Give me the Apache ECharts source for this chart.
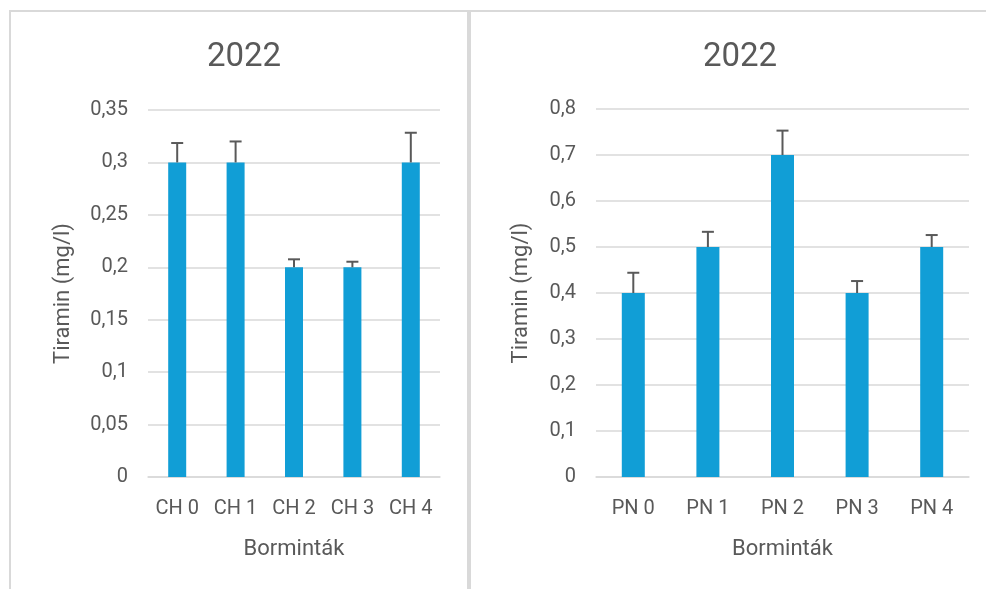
<!DOCTYPE html>
<html><head><meta charset="utf-8">
<script src="https://cdn.jsdelivr.net/npm/echarts@6/dist/echarts.min.js"></script>
<style>html,body{margin:0;padding:0;background:#fff}#c{width:986px;height:589px}</style>
</head><body><div id="c"></div>
<script>
const titleText = '2022';
const xAxisName = 'Borminták';
const yAxisName = 'Tiramin (mg/l)';
const categoriesCH = ['CH 0', 'CH 1', 'CH 2', 'CH 3', 'CH 4'];
const valuesCH = [0.3, 0.3, 0.2, 0.2, 0.3];
const errorsCH = [0.0185, 0.020, 0.0076, 0.0053, 0.0283];
const categoriesPN = ['PN 0', 'PN 1', 'PN 2', 'PN 3', 'PN 4'];
const valuesPN = [0.4, 0.5, 0.7, 0.4, 0.5];
const errorsPN = [0.044, 0.033, 0.053, 0.026, 0.026];
const yTicksCH = { min: 0, max: 0.35, interval: 0.05 };
const yTicksPN = { min: 0, max: 0.8, interval: 0.1 };

const TXT = '#595959', GRID = '#d9d9d9', BAR = '#119ed6', ERR = '#595959';
const FONT = 'Roboto';
const fmt = v => String(Math.round(v * 100) / 100).replace('.', ',');

function errSeries(idx, vals, errs) {
  return {
    type: 'custom', xAxisIndex: idx, yAxisIndex: idx, z: 5,
    data: vals.map((v, i) => [i, v, v + errs[i]]),
    renderItem: (params, api) => {
      const p0 = api.coord([api.value(0), api.value(1)]);
      const p1 = api.coord([api.value(0), api.value(2)]);
      const hw = 6;
      return { type: 'group', children: [
        { type: 'line', shape: { x1: p0[0], y1: p0[1], x2: p1[0], y2: p1[1] }, style: { stroke: ERR, lineWidth: 2 } },
        { type: 'line', shape: { x1: p1[0] - hw, y1: p1[1], x2: p1[0] + hw, y2: p1[1] }, style: { stroke: ERR, lineWidth: 2 } }
      ]};
    }
  };
}

function xAx(idx, cats) {
  return {
    type: 'category', gridIndex: idx, data: cats,
    axisLine: { show: true, lineStyle: { color: GRID, width: 1.5 } },
    axisTick: { show: false },
    axisLabel: { color: TXT, fontSize: 20, fontFamily: FONT, margin: 22 },
    name: xAxisName, nameLocation: 'middle', nameGap: 61,
    nameTextStyle: { color: TXT, fontSize: 22, fontFamily: FONT }
  };
}
function yAx(idx, t, gap) {
  return {
    type: 'value', gridIndex: idx, min: t.min, max: t.max, interval: t.interval,
    axisLine: { show: false }, axisTick: { show: false },
    splitLine: { lineStyle: { color: GRID, width: 1.5 } },
    axisLabel: { color: TXT, fontSize: 20, fontFamily: FONT, margin: 20, formatter: fmt },
    name: yAxisName, nameLocation: 'middle', nameGap: gap,
    nameTextStyle: { color: TXT, fontSize: 22, fontFamily: FONT }
  };
}

const chart = echarts.init(document.getElementById('c'));
chart.setOption({
  backgroundColor: '#fff',
  animation: false,
  graphic: [
    { type: 'rect', shape: { x: 10, y: 11, width: 458, height: 600 }, style: { fill: 'none', stroke: GRID, lineWidth: 2 } },
    { type: 'rect', shape: { x: 470, y: 11, width: 600, height: 600 }, style: { fill: 'none', stroke: GRID, lineWidth: 2 } }
  ],
  title: [
    { text: titleText, left: 239, top: 36, textAlign: 'center', textStyle: { color: TXT, fontSize: 33, fontWeight: 'normal', fontFamily: FONT } },
    { text: titleText, left: 735, top: 36, textAlign: 'center', textStyle: { color: TXT, fontSize: 33, fontWeight: 'normal', fontFamily: FONT } }
  ],
  grid: [
    { left: 148, top: 110, width: 292, height: 367 },
    { left: 596, top: 109, width: 373, height: 368 }
  ],
  xAxis: [xAx(0, categoriesCH), xAx(1, categoriesPN)],
  yAxis: [yAx(0, yTicksCH, 74), yAx(1, yTicksPN, 64)],
  series: [
    { type: 'bar', xAxisIndex: 0, yAxisIndex: 0, data: valuesCH, barWidth: 18, itemStyle: { color: BAR } },
    { type: 'bar', xAxisIndex: 1, yAxisIndex: 1, data: valuesPN, barWidth: 23, itemStyle: { color: BAR } },
    errSeries(0, valuesCH, errorsCH),
    errSeries(1, valuesPN, errorsPN)
  ]
});
</script></body></html>
